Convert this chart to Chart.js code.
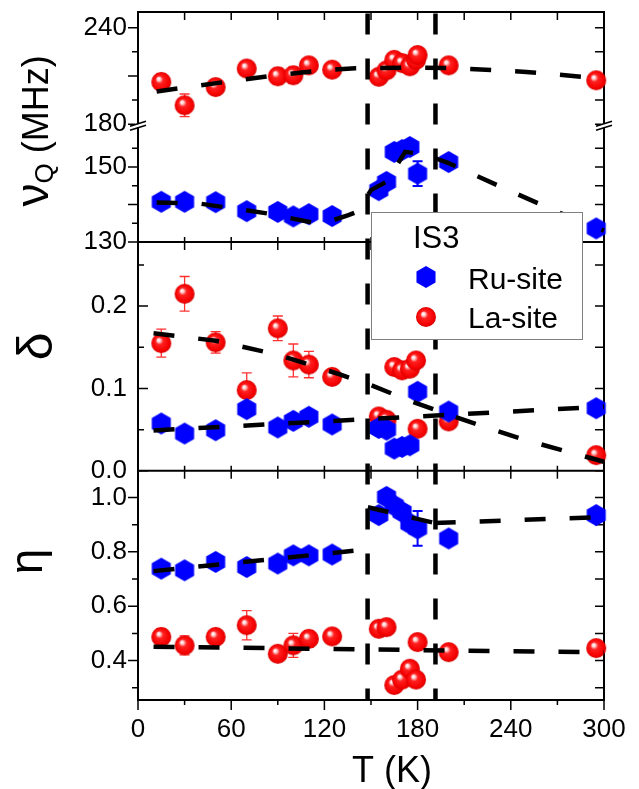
<!DOCTYPE html>
<html>
<head>
<meta charset="utf-8">
<script src="https://cdn.jsdelivr.net/npm/chart.js@4.4.1/dist/chart.umd.min.js"></script>
<style>
  html, body { margin: 0; padding: 0; background: #fff; }
</style>
</head>
<body>
<canvas id="chart" width="639" height="789"></canvas>
<script>
// Temperatures (K) of the two sites
const ruTemps = [15, 30, 50, 70, 90, 100, 110, 125, 155, 160, 165, 170, 175, 180, 200, 295];
const laTemps = [15, 30, 50, 70, 90, 100, 110, 125, 155, 160, 165, 170, 175, 179, 180, 200, 295];

// nu_Q (MHz)
const ruNuQ    = [140.7, 140.7, 140.6, 138.2, 138.0, 136.8, 137.4, 136.9, 143.8, 146.0, 154.0, 154.5, 155.3, 148.2, 151.3, 133.6];
const ruNuQErr = [0, 0, 0, 0, 0, 0, 0, 0, 0, 0, 0, 0, 0, 3.3, 0, 0];
const laNuQ    = [206.3, 191.8, 203.1, 214.6, 209.8, 210.4, 216.6, 213.9, 209.5, 213.5, 220.0, 218.0, 216.0, 220.0, 223.0, 216.6, 207.3];
const laNuQErr = [5, 7, 0, 0, 5, 5, 0, 0, 0, 0, 0, 0, 0, 0, 0, 0, 0];

// delta
const ruDelta    = [0.0575, 0.0453, 0.0493, 0.0749, 0.0526, 0.0607, 0.0656, 0.0563, 0.052, 0.050, 0.027, 0.029, 0.031, 0.096, 0.072, 0.076];
const laDelta    = [0.155, 0.215, 0.156, 0.098, 0.173, 0.134, 0.129, 0.114, 0.066, 0.062, 0.126, 0.122, 0.124, 0.134, 0.051, 0.060, 0.019];
const laDeltaErr = [0.017, 0.021, 0.013, 0.021, 0.015, 0.020, 0.016, 0, 0, 0, 0, 0, 0, 0, 0, 0, 0];

// eta
const ruEta    = [0.738, 0.732, 0.763, 0.744, 0.757, 0.787, 0.787, 0.790, 0.935, 1.002, 0.970, 0.947, 0.904, 0.886, 0.849, 0.935];
const ruEtaErr = [0, 0, 0, 0, 0, 0, 0, 0, 0, 0, 0, 0, 0, 0.064, 0, 0];
const laEta    = [0.487, 0.456, 0.487, 0.530, 0.425, 0.456, 0.480, 0.489, 0.517, 0.523, 0.310, 0.330, 0.370, 0.330, 0.468, 0.431, 0.446];
const laEtaErr = [0.03, 0.035, 0, 0.054, 0.02, 0.044, 0.03, 0, 0, 0, 0, 0, 0, 0, 0, 0, 0];

// dashed guide lines
const laNuQFitT = [12, 30, 60, 90, 117, 140, 175, 200, 250, 280, 300];
const laNuQFit  = [200.3, 202.8, 206.8, 210.5, 213.3, 214.8, 215.2, 215.0, 212.5, 210.0, 208.2];
const ruNuQFitT = [12, 40, 55, 83, 112, 120, 135, 141, 150, 158, 162, 166, 172, 185, 200, 240, 270, 300];
const ruNuQFit  = [140.5, 140.2, 139.3, 137.6, 135.2, 135.0, 137.1, 138.0, 143.8, 145.6, 146.5, 150.0, 154.0, 153.3, 151.0, 143.5, 138.0, 133.0];
const laDeltaFitT = [10, 50, 90, 130, 150, 175, 200, 225, 250, 275, 300];
const laDeltaFit  = [0.167, 0.158, 0.141, 0.117, 0.104, 0.085, 0.068, 0.052, 0.037, 0.024, 0.011];
const ruDeltaFitT = [10, 300];
const ruDeltaFit  = [0.049, 0.078];
const ruEtaFit1T = [10, 148];
const ruEtaFit1  = [0.729, 0.809];
const ruEtaFit2T = [148, 191];
const ruEtaFit2  = [0.964, 0.906];
const ruEtaFit3T = [191, 300];
const ruEtaFit3  = [0.906, 0.928];
const laEtaFitT = [10, 300];
const laEtaFit  = [0.451, 0.430];

// transition temperatures (vertical dashed lines)
const transitions = [147.8, 191.5];

// tick labels
const xTicks = [0, 60, 120, 180, 240, 300];
const xMinor = [30, 90, 150, 210, 270];
const laTicks = [180, 210, 240];
const laMinor = [195, 225];
const ruTicks = [130, 140, 150];
const ruMinor = [135, 145, 155];
const deltaTicks = [0.0, 0.1, 0.2];
const deltaMinor = [0.05, 0.15, 0.25];
const etaTicks = [0.4, 0.6, 0.8, 1.0];
const etaMinor = [0.3, 0.5, 0.7, 0.9];

const FONT = "'Liberation Sans', Arial, sans-serif";
const tickFont = { family: FONT, size: 26 };

function pts(xs, ys) {
    return xs.map((x, i) => ({ x: x, y: ys[i] }));
}

// red shaded sphere
function makeSphere(r) {
    const c = document.createElement('canvas');
    c.width = c.height = 2 * r + 2;
    const g = c.getContext('2d');
    const cx = r + 1, cy = r + 1;
    const grad = g.createRadialGradient(cx - r * 0.3, cy - r * 0.35, 0, cx, cy, r);
    grad.addColorStop(0, '#ffffff');
    grad.addColorStop(0.15, '#ffe0e0');
    grad.addColorStop(0.38, '#ff2020');
    grad.addColorStop(0.85, '#f40000');
    grad.addColorStop(1, '#d00000');
    g.fillStyle = grad;
    g.beginPath();
    g.arc(cx, cy, r, 0, Math.PI * 2);
    g.fill();
    return c;
}

// blue hexagon, pointy top
function makeHexagon(r) {
    const c = document.createElement('canvas');
    c.width = Math.ceil(Math.sqrt(3) * r) + 2;
    c.height = 2 * r + 2;
    const g = c.getContext('2d');
    const cx = c.width / 2, cy = c.height / 2;
    g.fillStyle = '#0000ff';
    g.beginPath();
    for (let k = 0; k < 6; k++) {
        const a = (-90 + 60 * k) * Math.PI / 180;
        const px = cx + r * Math.cos(a), py = cy + r * Math.sin(a);
        if (k === 0) g.moveTo(px, py); else g.lineTo(px, py);
    }
    g.closePath();
    g.fill();
    return c;
}

const sphere = makeSphere(10);
const hexagon = makeHexagon(11);

function markerSet(label, temps, values, errors, axis, img, errColor, errWidth) {
    return {
        label: label,
        data: pts(temps, values),
        yAxisID: axis,
        pointStyle: img,
        pointRadius: 10,
        pointHoverRadius: 10,
        showLine: false,
        clip: false,
        order: 1,
        errors: errors,
        errorColor: errColor,
        errorWidth: errWidth
    };
}

function fitSet(temps, values, axis) {
    return {
        data: pts(temps, values),
        yAxisID: axis,
        showLine: true,
        pointRadius: 0,
        borderColor: '#000',
        borderWidth: 4.5,
        borderDash: [21, 24],
        fill: false,
        clip: false,
        order: 0
    };
}

// error bars, drawn behind the markers
const errorBars = {
    id: 'errorBars',
    beforeDatasetsDraw(chart) {
        const ctx = chart.ctx;
        chart.data.datasets.forEach((ds, i) => {
            if (!ds.errors) return;
            const meta = chart.getDatasetMeta(i);
            const ys = chart.scales[ds.yAxisID];
            ctx.save();
            ctx.strokeStyle = ds.errorColor;
            ctx.lineWidth = ds.errorWidth;
            meta.data.forEach((pt, j) => {
                const e = ds.errors[j];
                if (!e) return;
                const v = ds.data[j].y;
                const y1 = ys.getPixelForValue(v + e);
                const y2 = ys.getPixelForValue(v - e);
                ctx.beginPath();
                ctx.moveTo(pt.x, y1); ctx.lineTo(pt.x, y2);
                ctx.moveTo(pt.x - 5, y1); ctx.lineTo(pt.x + 5, y1);
                ctx.moveTo(pt.x - 5, y2); ctx.lineTo(pt.x + 5, y2);
                ctx.stroke();
            });
            ctx.restore();
        });
    }
};

// panel frames, tick marks and axis break
const frames = {
    id: 'frames',
    beforeDatasetsDraw(chart) {
        const ctx = chart.ctx;
        const s = chart.scales;
        const ca = chart.chartArea;
        const L = ca.left, R = ca.right;
        const edges = [ca.top, s.yRu.bottom, s.yDelta.bottom, ca.bottom];
        ctx.save();
        ctx.strokeStyle = '#000';
        ctx.lineWidth = 2;
        ctx.beginPath();
        ctx.rect(L, ca.top, R - L, ca.bottom - ca.top);
        ctx.moveTo(L, edges[1]); ctx.lineTo(R, edges[1]);
        ctx.moveTo(L, edges[2]); ctx.lineTo(R, edges[2]);
        ctx.stroke();

        ctx.lineWidth = 1.5;
        ctx.beginPath();
        // x ticks on panel edges
        const xAll = xTicks.concat(xMinor);
        edges.forEach((ey, k) => {
            xAll.forEach(v => {
                const px = s.x.getPixelForValue(v);
                if (k < 3) { ctx.moveTo(px, ey); ctx.lineTo(px, ey + 8); }
                if (k > 0 && k < 3) { ctx.moveTo(px, ey); ctx.lineTo(px, ey - 5); }
            });
        });
        xTicks.forEach(v => {
            const px = s.x.getPixelForValue(v);
            ctx.moveTo(px, ca.bottom); ctx.lineTo(px, ca.bottom + 10);
        });
        xMinor.forEach(v => {
            const px = s.x.getPixelForValue(v);
            ctx.moveTo(px, ca.bottom); ctx.lineTo(px, ca.bottom + 5);
        });
        // y ticks
        const yDefs = [
            [s.yLa, laTicks, laMinor, -1],
            [s.yRu, ruTicks, ruMinor, -1],
            [s.yDelta, deltaTicks, deltaMinor, 1],
            [s.yEta, etaTicks, etaMinor, -1]
        ];
        yDefs.forEach(([sc, major, minor, dir]) => {
            major.forEach(v => {
                const py = sc.getPixelForValue(v);
                ctx.moveTo(L, py); ctx.lineTo(L + dir * 10, py);
                ctx.moveTo(R, py); ctx.lineTo(R - 9, py);
            });
            minor.forEach(v => {
                const py = sc.getPixelForValue(v);
                if (py < sc.top - 0.5 || py > sc.bottom + 0.5) return;
                ctx.moveTo(L, py); ctx.lineTo(L + dir * 6, py);
                ctx.moveTo(R, py); ctx.lineTo(R - 9, py);
            });
        });
        ctx.stroke();

        // axis break marks
        const by = s.yLa.bottom;
        [L, R].forEach(ax => {
            ctx.fillStyle = '#fff';
            ctx.fillRect(ax - 3, by - 2, 6, 4);
            ctx.beginPath();
            ctx.lineWidth = 1.5;
            ctx.moveTo(ax - 8, by + 1); ctx.lineTo(ax + 8, by - 4);
            ctx.moveTo(ax - 8, by + 5); ctx.lineTo(ax + 8, by);
            ctx.stroke();
        });
        ctx.restore();
    },
    afterDatasetsDraw(chart) {
        const ctx = chart.ctx;
        const ca = chart.chartArea;
        ctx.save();
        ctx.strokeStyle = '#000';
        ctx.lineWidth = 4.5;
        ctx.setLineDash([21, 24]);
        transitions.forEach(t => {
            const px = chart.scales.x.getPixelForValue(t);
            ctx.beginPath();
            ctx.moveTo(px, ca.top + 1.5);
            ctx.lineTo(px, ca.bottom);
            ctx.stroke();
        });
        ctx.restore();
    }
};

// axis titles and legend box
const labels = {
    id: 'labels',
    afterDraw(chart) {
        const ctx = chart.ctx;
        const s = chart.scales;
        ctx.save();
        ctx.fillStyle = '#000';
        ctx.textBaseline = 'alphabetic';

        // nu_Q (MHz), rotated
        const cy = (s.yLa.top + s.yRu.bottom) / 2 + 4;
        ctx.save();
        ctx.translate(48, cy);
        ctx.rotate(-Math.PI / 2);
        const parts = [
            ['ν', 46, 0],
            ['Q', 26, 5],
            [' (MHz)', 36, 0]
        ];
        let total = 0;
        parts.forEach(p => { ctx.font = p[1] + 'px ' + FONT; total += ctx.measureText(p[0]).width; });
        let u = -total / 2;
        ctx.textAlign = 'left';
        parts.forEach(p => {
            ctx.font = p[1] + 'px ' + FONT;
            ctx.fillText(p[0], u, p[2]);
            u += ctx.measureText(p[0]).width;
        });
        ctx.restore();

        // delta and eta
        ctx.textAlign = 'center';
        ctx.save();
        ctx.translate(52, (s.yDelta.top + s.yDelta.bottom) / 2 - 10);
        ctx.rotate(-Math.PI / 2);
        ctx.font = '50px ' + FONT;
        ctx.fillText('δ', 0, 0);
        ctx.restore();

        ctx.save();
        ctx.translate(42, (s.yEta.top + s.yEta.bottom) / 2 - 24);
        ctx.rotate(-Math.PI / 2);
        ctx.font = '46px ' + FONT;
        ctx.fillText('η', 0, 0);
        ctx.restore();

        // T (K)
        ctx.textAlign = 'left';
        ctx.font = '36px ' + FONT;
        ctx.fillText('T (K)', 352, 782);

        // legend
        const bx = 371, byTop = 212, bw = 211, bh = 127;
        ctx.fillStyle = '#fff';
        ctx.fillRect(bx, byTop, bw, bh);
        ctx.strokeStyle = '#808080';
        ctx.lineWidth = 1;
        ctx.strokeRect(bx + 0.5, byTop + 0.5, bw, bh);
        ctx.fillStyle = '#000';
        ctx.font = '31px ' + FONT;
        ctx.fillText('IS3', 413, 248);
        ctx.font = '30px ' + FONT;
        ctx.fillText('Ru-site', 468, 289);
        ctx.fillText('La-site', 468, 328);
        ctx.drawImage(hexagon, 426 - hexagon.width / 2, 277 - hexagon.height / 2);
        ctx.drawImage(sphere, 426 - sphere.width / 2, 317 - sphere.height / 2);
        ctx.restore();
    }
};

function yAxis(weight, min, max, tickValues, digits) {
    return {
        type: 'linear',
        position: 'left',
        stack: 'panels',
        stackWeight: weight,
        min: min,
        max: max,
        afterBuildTicks: sc => { sc.ticks = tickValues.map(v => ({ value: v })); },
        afterFit: sc => { sc.width = 138; sc.paddingTop = 0; sc.paddingBottom = 0; },
        grid: { display: false, drawTicks: false },
        border: { display: false },
        ticks: {
            font: tickFont,
            color: '#000',
            padding: 11,
            callback: v => v.toFixed(digits)
        }
    };
}

new Chart(document.getElementById('chart'), {
    type: 'scatter',
    data: {
        datasets: [
            markerSet('Ru-site', ruTemps, ruNuQ, ruNuQErr, 'yRu', hexagon, '#0000ff', 2),
            markerSet('La-site', laTemps, laNuQ, laNuQErr, 'yLa', sphere, '#ff3030', 1.3),
            markerSet('Ru-site', ruTemps, ruDelta, null, 'yDelta', hexagon, '#0000ff', 2),
            markerSet('La-site', laTemps, laDelta, laDeltaErr, 'yDelta', sphere, '#ff3030', 1.3),
            markerSet('Ru-site', ruTemps, ruEta, ruEtaErr, 'yEta', hexagon, '#0000ff', 2),
            markerSet('La-site', laTemps, laEta, laEtaErr, 'yEta', sphere, '#ff3030', 1.3),
            fitSet(laNuQFitT, laNuQFit, 'yLa'),
            fitSet(ruNuQFitT, ruNuQFit, 'yRu'),
            fitSet(laDeltaFitT, laDeltaFit, 'yDelta'),
            fitSet(ruDeltaFitT, ruDeltaFit, 'yDelta'),
            fitSet(ruEtaFit1T, ruEtaFit1, 'yEta'),
            fitSet(ruEtaFit2T, ruEtaFit2, 'yEta'),
            fitSet(ruEtaFit3T, ruEtaFit3, 'yEta'),
            fitSet(laEtaFitT, laEtaFit, 'yEta')
        ]
    },
    options: {
        responsive: false,
        animation: false,
        devicePixelRatio: 1,
        layout: { padding: { top: 12, right: 35, left: 0, bottom: 0 } },
        plugins: {
            legend: { display: false },
            tooltip: { enabled: false }
        },
        scales: {
            x: {
                type: 'linear',
                position: 'bottom',
                min: 0,
                max: 300,
                afterBuildTicks: sc => { sc.ticks = xTicks.map(v => ({ value: v })); },
                afterFit: sc => { sc.height = 89; sc.paddingLeft = 0; sc.paddingRight = 0; },
                grid: { display: false, drawTicks: false },
                border: { display: false },
                ticks: { font: tickFont, color: '#000', padding: 14, maxRotation: 0, autoSkip: false }
            },
            yEta: yAxis(229.3, 0.255, 1.098, etaTicks, 1),
            yDelta: yAxis(229, 0, 0.278, deltaTicks, 1),
            yRu: yAxis(116.7, 130, 161.1, ruTicks, 0),
            yLa: yAxis(113.3, 179.4, 249.7, laTicks, 0)
        }
    },
    plugins: [errorBars, frames, labels]
});
</script>
</body>
</html>
